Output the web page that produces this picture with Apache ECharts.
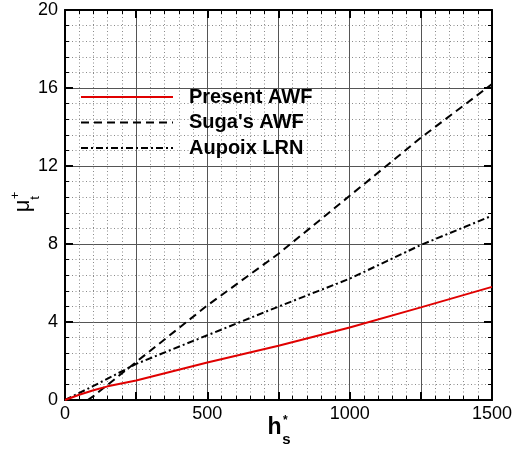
<!DOCTYPE html>
<html><head><meta charset="utf-8">
<script src="https://cdn.jsdelivr.net/npm/echarts@6/dist/echarts.min.js"></script>
<style>html,body{margin:0;padding:0;background:#fff}#c{width:518px;height:452px}</style>
</head><body><div id="c"></div>
<script>
// Data
const seriesNames = ['Present AWF', "Suga's AWF", 'Aupoix LRN'];
const presentH   = [0, 50, 100, 150, 250, 500, 750, 1000, 1250, 1500];
const presentMu  = [0, 0.27, 0.5, 0.7, 1.0, 1.92, 2.78, 3.72, 4.75, 5.8];
const sugaH      = [80, 100, 250, 500, 750, 1000, 1250, 1500];
const sugaMu     = [0, 0.2, 1.95, 4.85, 7.5, 10.47, 13.45, 16.2];
const aupoixH    = [0, 100, 250, 500, 750, 1000, 1250, 1500];
const aupoixMu   = [0, 0.72, 1.85, 3.32, 4.79, 6.22, 7.95, 9.45];
const xTickLabels = [0, 500, 1000, 1500];
const yTickLabels = [0, 4, 8, 12, 16, 20];

const FONT = '"Liberation Sans", Arial, Helvetica, sans-serif';
const pair = (xs, ys) => xs.map((x, i) => [x, ys[i]]);

const majorGrid = {show: true, lineStyle: {color: '#555', width: 1}};
const minorGrid = {show: true, lineStyle: {color: '#8a8a8a', width: 1, type: [1, 2.5]}};
const axisLine = {show: true, onZero: false, lineStyle: {color: '#000', width: 2}};
const axisTick = {show: true, inside: true, length: 8, lineStyle: {color: '#000', width: 2}};
const minorTick = {show: true, splitNumber: 5, length: 4, lineStyle: {color: '#000', width: 1}};

const chart = echarts.init(document.getElementById('c'), null, {renderer: 'canvas'});
chart.setOption({
  animation: false,
  backgroundColor: '#fff',
  grid: {left: 65, right: 26, top: 10, bottom: 52, containLabel: false},
  xAxis: [{
    type: 'value', min: 0, max: 1500, interval: 250, position: 'bottom',
    axisLine, axisTick, minorTick,
    splitLine: majorGrid, minorSplitLine: minorGrid,
    axisLabel: {
      fontSize: 18, color: '#000', fontFamily: FONT, margin: 5,
      formatter: v => xTickLabels.includes(v) ? String(v) : ''
    }
  }, {
    type: 'value', min: 0, max: 1500, interval: 250, position: 'top',
    axisLine, axisTick, minorTick,
    splitLine: {show: false}, axisLabel: {show: false}
  }],
  yAxis: [{
    type: 'value', min: 0, max: 20, interval: 4, position: 'left',
    axisLine, axisTick, minorTick,
    splitLine: majorGrid, minorSplitLine: minorGrid,
    axisLabel: {
      fontSize: 18, color: '#000', fontFamily: FONT, margin: 7,
      formatter: v => yTickLabels.includes(v) ? String(v) : ''
    }
  }, {
    type: 'value', min: 0, max: 20, interval: 4, position: 'right',
    axisLine, axisTick, minorTick,
    splitLine: {show: false}, axisLabel: {show: false}
  }],
  legend: {
    orient: 'vertical', left: 80, top: 87, padding: 0,
    itemWidth: 92, itemHeight: 20, itemGap: 5.5,
    itemStyle: {opacity: 0},
    data: seriesNames,
    textStyle: {fontSize: 20, fontWeight: 'bold', color: '#000', fontFamily: FONT, padding: [0, 0, 0, 11]}
  },
  series: [{
    name: seriesNames[0], type: 'line', symbol: 'none', data: pair(presentH, presentMu),
    lineStyle: {color: '#e00000', width: 2}, itemStyle: {color: '#e00000'}, z: 5
  }, {
    name: seriesNames[1], type: 'line', symbol: 'none', data: pair(sugaH, sugaMu),
    lineStyle: {color: '#000', width: 2, type: [8, 5]}, itemStyle: {color: '#000'}, z: 4
  }, {
    name: seriesNames[2], type: 'line', symbol: 'none', data: pair(aupoixH, aupoixMu),
    lineStyle: {color: '#000', width: 2, type: [7, 3, 2, 3]}, itemStyle: {color: '#000'}, z: 4
  }],
  graphic: [
    {type: 'text', x: 274.5, y: 427.5, style: {text: 'h', font: 'bold 23px ' + FONT, fill: '#000', align: 'center', verticalAlign: 'middle'}},
    {type: 'text', x: 286.5, y: 440, style: {text: 's', font: 'bold 15px ' + FONT, fill: '#000', align: 'center', verticalAlign: 'middle'}},
    {type: 'text', x: 285.3, y: 421, style: {text: '*', font: 'bold 12px ' + FONT, fill: '#000', align: 'center', verticalAlign: 'middle'}},
    {type: 'text', x: 23, y: 206, rotation: Math.PI / 2, style: {text: 'μ', font: '22px ' + FONT, fill: '#000', align: 'center', verticalAlign: 'middle'}},
    {type: 'text', x: 35, y: 198, rotation: Math.PI / 2, style: {text: 't', font: '13px ' + FONT, fill: '#000', align: 'center', verticalAlign: 'middle'}},
    {type: 'text', x: 15.3, y: 195.5, rotation: Math.PI / 2, style: {text: '+', font: '13px ' + FONT, fill: '#000', align: 'center', verticalAlign: 'middle'}}
  ]
});
</script></body></html>
